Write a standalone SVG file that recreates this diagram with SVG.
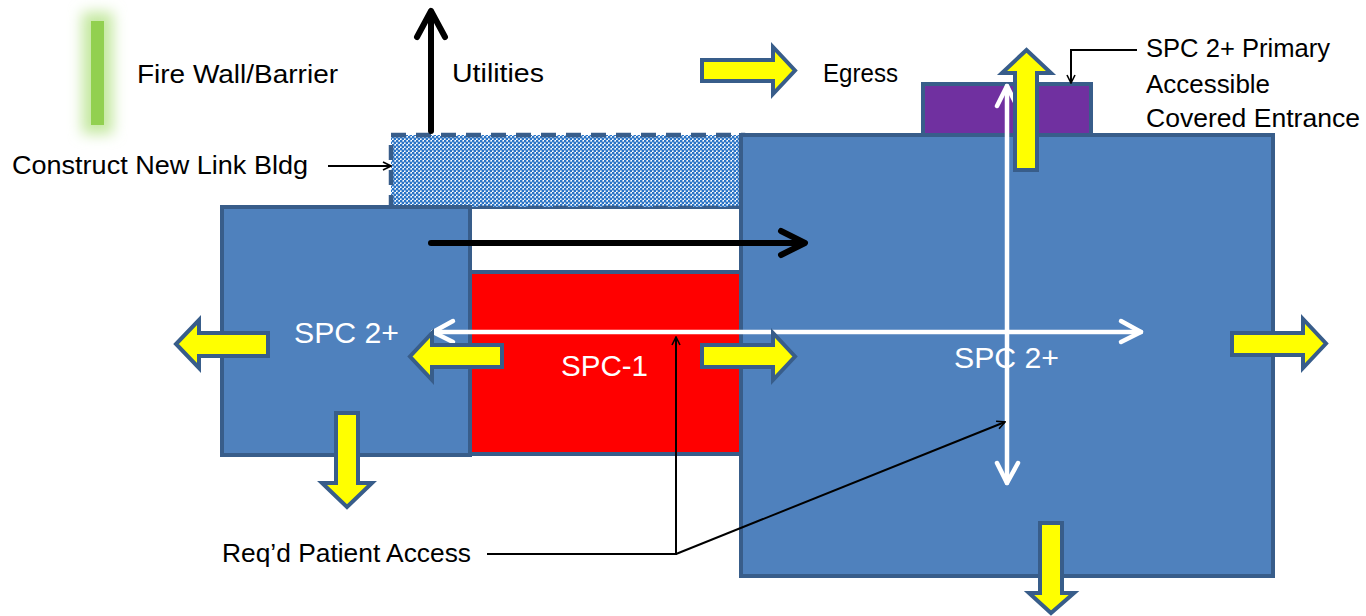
<svg xmlns="http://www.w3.org/2000/svg" width="1366" height="616" viewBox="0 0 1366 616">
  <defs>
    <style>
      .lbl { font-family: "Liberation Sans", Arial, sans-serif; font-size: 25px; fill: #000; }
      .big { font-family: "Liberation Sans", Arial, sans-serif; font-size: 30px; fill: #fff; }
      .box { fill: #4F81BD; stroke: #385D8A; stroke-width: 4; }
      .yarrow { fill: #FFFF00; stroke: #385D8A; stroke-width: 4; stroke-linejoin: miter; }
      .blk { fill: none; stroke: #000; stroke-width: 6; stroke-linecap: round; stroke-linejoin: round; }
      .wht { fill: none; stroke: #fff; stroke-width: 4.5; stroke-linecap: round; stroke-linejoin: round; }
      .lead { fill: none; stroke: #000; stroke-width: 2; }
    </style>
    <pattern id="dots" width="4" height="4" patternUnits="userSpaceOnUse">
      <rect width="4" height="4" fill="#ffffff"/>
      <circle cx="1" cy="1" r="1.5" fill="#2A74C6"/>
      <circle cx="3" cy="3" r="1.5" fill="#2A74C6"/>
    </pattern>
    <filter id="glow" x="-2" y="-1" width="5" height="3">
      <feGaussianBlur stdDeviation="7"/>
    </filter>
    <filter id="shadow" x="-0.1" y="-1" width="1.2" height="3">
      <feGaussianBlur stdDeviation="1.5"/>
    </filter>
    <marker id="open" viewBox="0 0 10 10" refX="9" refY="5" markerWidth="10" markerHeight="10" markerUnits="userSpaceOnUse" orient="auto">
      <path d="M1,1 L9,5 L1,9" fill="none" stroke="#000" stroke-width="1.6"/>
    </marker>
  </defs>
  <rect width="1366" height="616" fill="#ffffff"/>

  <!-- Legend: fire wall -->
  <g id="legend-firewall">
    <rect x="82" y="12" width="31" height="122" fill="#C4E8A0" filter="url(#glow)"/>
    <rect x="91" y="21" width="13" height="104" fill="#92D050"/>
    <text class="lbl" x="137" y="83" textLength="201" lengthAdjust="spacingAndGlyphs">Fire Wall/Barrier</text>
  </g>

  <!-- Legend: utilities -->
  <g id="legend-utilities">
    <text class="lbl" x="452" y="82" textLength="92" lengthAdjust="spacingAndGlyphs">Utilities</text>
  </g>

  <!-- Legend: egress -->
  <g id="legend-egress">
    <polygon class="yarrow" points="702,60 773,60 773,47 795,70.5 773,94 773,81 702,81"/>
    <text class="lbl" x="823" y="82" textLength="75" lengthAdjust="spacingAndGlyphs">Egress</text>
  </g>

  <!-- Link building (new) -->
  <g id="link-bldg">
    <rect x="391" y="135" width="352" height="73" fill="url(#dots)" stroke="#385D8A" stroke-width="4.5" stroke-dasharray="15 10"/>
  </g>

  <!-- Corridor gap -->
  <g id="corridor">
    <rect x="470" y="208" width="270" height="63" fill="#ffffff" stroke="#385D8A" stroke-width="2"/>
  </g>

  <!-- SPC-1 -->
  <g id="spc1">
    <rect x="470" y="272" width="271" height="182" fill="#FF0000" stroke="#385D8A" stroke-width="4"/>
    <text class="big" x="561" y="376" textLength="87" lengthAdjust="spacingAndGlyphs">SPC-1</text>
  </g>

  <!-- Left SPC 2+ -->
  <g id="spc2-left">
    <rect class="box" x="222" y="207" width="248" height="248"/>
    <text class="big" x="294" y="343" textLength="105" lengthAdjust="spacingAndGlyphs">SPC 2+</text>
  </g>

  <!-- Covered entrance -->
  <g id="entrance">
    <rect x="923" y="84" width="168" height="52" fill="#7030A0" stroke="#385D8A" stroke-width="4"/>
  </g>

  <!-- Right SPC 2+ -->
  <g id="spc2-right">
    <rect class="box" x="741" y="135" width="532" height="441"/>
    <text class="big" x="954" y="368" textLength="105" lengthAdjust="spacingAndGlyphs">SPC 2+</text>
  </g>

  <!-- Labels -->
  <g id="label-link">
    <text class="lbl" x="12" y="174" textLength="296" lengthAdjust="spacingAndGlyphs">Construct New Link Bldg</text>
  </g>
  <g id="label-entrance">
    <text class="lbl" x="1146" y="57" textLength="184" lengthAdjust="spacingAndGlyphs">SPC 2+ Primary</text>
    <text class="lbl" x="1146" y="93" textLength="124" lengthAdjust="spacingAndGlyphs">Accessible</text>
    <text class="lbl" x="1146" y="127" textLength="214" lengthAdjust="spacingAndGlyphs">Covered Entrance</text>
  </g>
  <g id="label-access">
    <text class="lbl" x="222" y="562" textLength="249" lengthAdjust="spacingAndGlyphs">Req’d Patient Access</text>
  </g>

  <!-- Connectors -->
  <g id="connectors">
    <!-- utilities arrow -->
    <line class="blk" x1="431" y1="131" x2="431" y2="12"/>
    <polyline class="blk" points="417,37 431,11 445,37"/>
    <!-- black horizontal arrow with shadow -->
    <g opacity="0.35" filter="url(#shadow)">
      <line x1="432" y1="246" x2="806" y2="246" stroke="#000" stroke-width="6"/>
    </g>
    <line class="blk" x1="431" y1="243" x2="804" y2="243"/>
    <polyline class="blk" points="781,231 805,243 781,255"/>

    <!-- white patient access arrows -->
    <line class="wht" x1="433" y1="332" x2="1141" y2="332"/>
    <polyline class="wht" points="453,321 433,332 453,342"/>
    <polyline class="wht" points="1121,321 1141,332 1121,342"/>
    <line class="wht" x1="1007" y1="86" x2="1007" y2="483"/>
    <polyline class="wht" points="997,106 1007,86 1017,106"/>
    <polyline class="wht" points="997,463 1007,483 1018,463"/>

    <!-- leader lines -->
    <line class="lead" x1="328" y1="166" x2="391" y2="166" marker-end="url(#open)"/>
    <polyline class="lead" points="1137,50 1071,50 1071,83" marker-end="url(#open)"/>
    <polyline class="lead" points="487,554 676,554 676,337" marker-end="url(#open)"/>
    <line class="lead" x1="676" y1="554" x2="1005" y2="422" marker-end="url(#open)"/>

    <!-- yellow egress arrows -->
    <polygon class="yarrow" points="268,333 199,333 199,320 176,344 199,368 199,356 268,356"/>
    <polygon class="yarrow" points="502,345 432,345 432,333 410,356.5 432,380 432,367 502,367"/>
    <polygon class="yarrow" points="702,345 773,345 773,333 795,356.5 773,380 773,367 702,367"/>
    <polygon class="yarrow" points="336,413 358,413 358,483 372,483 347,507 322,483 336,483"/>
    <polygon class="yarrow" points="1015,170 1015,73 1002,73 1026.5,50 1051,73 1037,73 1037,170"/>
    <polygon class="yarrow" points="1232,333 1303,333 1303,319 1326,343.5 1303,368 1303,355 1232,355"/>
    <polygon class="yarrow" points="1040,523 1062,523 1062,593 1074,593 1051,613 1029,593 1040,593"/>
  </g>
</svg>
